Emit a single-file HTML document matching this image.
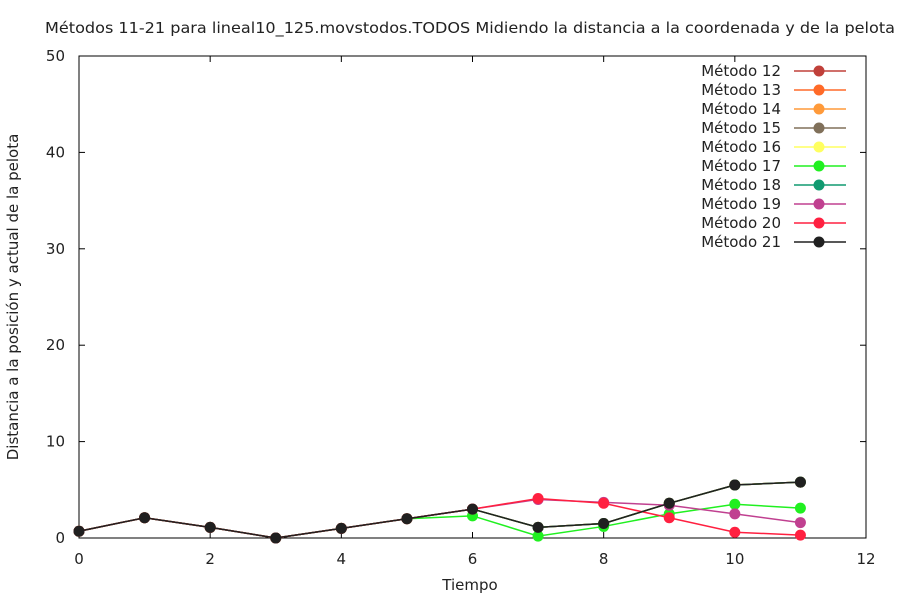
<!DOCTYPE html>
<html><head><meta charset="utf-8"><style>
body{margin:0;background:#fff}
svg text{font-family:"DejaVu Sans","Liberation Sans",sans-serif;font-size:15px;fill:#222}
</style></head><body>
<svg width="900" height="600" id="c">
<text x="470" y="33" text-anchor="middle" textLength="850" lengthAdjust="spacingAndGlyphs">Métodos 11-21 para lineal10_125.movstodos.TODOS Midiendo la distancia a la coordenada y de la pelota</text>
<text x="470" y="590" text-anchor="middle">Tiempo</text>
<text transform="translate(18,297) rotate(-90)" text-anchor="middle">Distancia a la posición y actual de la pelota</text>
<rect x="79" y="56" width="787" height="482" fill="none" stroke="#000"/>
<g id="ax"></g><g id="series"></g><g id="legend"></g>
</svg>
<script>
const xTicks=[0,2,4,6,8,10,12];
const yTicks=[0,10,20,30,40,50];
const times=[0,1,2,3,4,5,6,7,8,9,10,11];
const names=["Método 12","Método 13","Método 14","Método 15","Método 16","Método 17","Método 18","Método 19","Método 20","Método 21"];
const colors=["#c0403a","#ff6a28","#ff9a3a","#80705a","#ffff60","#20f020","#109a70","#c04090","#ff2040","#202020"];
const base=[0.7,2.1,1.1,0,1.0,2.0,3.0,1.1,1.5,3.6,5.5,5.8];
const m17=[0.7,2.1,1.1,0,1.0,2.0,2.3,0.2,1.2,2.5,3.5,3.1];
const m19=[0.7,2.1,1.1,0,1.0,2.0,3.0,4.0,3.7,3.4,2.5,1.6];
const m20=[0.7,2.1,1.1,0,1.0,2.0,3.0,4.1,3.6,2.1,0.6,0.3];
const values=[base,base,base,base,base,m17,base,m19,m20,base];
const order=[0,1,2,3,4,6,5,7,8,9];
const X=v=>79+v*(787/12), Y=v=>538-v*(482/50);
const NS="http://www.w3.org/2000/svg";
function mk(t,a,p){const e=document.createElementNS(NS,t);for(const k in a)e.setAttribute(k,a[k]);p.appendChild(e);return e;}
const ax=document.getElementById('ax');
xTicks.forEach(t=>{mk('line',{x1:X(t),x2:X(t),y1:538,y2:532,stroke:'#000'},ax);mk('line',{x1:X(t),x2:X(t),y1:56,y2:62,stroke:'#000'},ax);
 const e=mk('text',{x:X(t),y:564,'text-anchor':'middle'},ax);e.textContent=t;
 
 });
yTicks.forEach(t=>{mk('line',{x1:79,x2:85,y1:Y(t),y2:Y(t),stroke:'#000'},ax);mk('line',{x1:866,x2:860,y1:Y(t),y2:Y(t),stroke:'#000'},ax);
 const e=mk('text',{x:65,y:Y(t)+5,'text-anchor':'end'},ax);e.textContent=t;
 
 });
const sg=document.getElementById('series');
order.forEach(i=>{const g=mk('g',{},sg);
 
 
 mk('polyline',{points:values[i].map((v,j)=>X(times[j])+','+Y(v)).join(' '),fill:'none',stroke:colors[i],'stroke-width':1.5},g);
 values[i].forEach((v,j)=>{const c=mk('circle',{cx:X(times[j]),cy:Y(v),r:5.5,fill:colors[i]},g);
  
  });
});
const lg=document.getElementById('legend');
names.forEach((n,i)=>{const y=71+i*19;const g=mk('g',{},lg);
 
 
 const t=mk('text',{x:781,y:y+5,'text-anchor':'end'},g);t.textContent=n;
 mk('line',{x1:794,x2:846,y1:y,y2:y,stroke:colors[i],'stroke-width':1.5},g);
 mk('circle',{cx:819,cy:y,r:5.5,fill:colors[i]},g);});
</script>
</body></html>
